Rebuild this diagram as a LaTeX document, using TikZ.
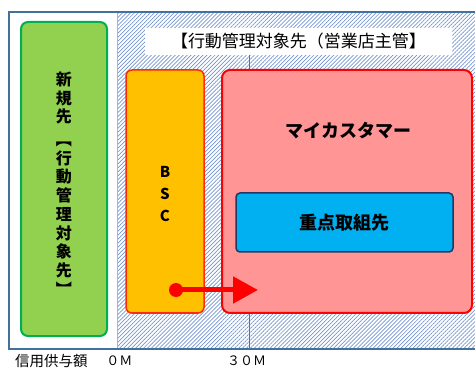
\documentclass[tikz,border=0pt]{standalone}
\usepackage{fontspec}
\setmainfont{Noto Sans CJK JP}
\usetikzlibrary{patterns.meta,arrows.meta}
\definecolor{frameblue}{HTML}{41719C}
\definecolor{hatchblue}{HTML}{7595CE}
\definecolor{greenfill}{HTML}{92D050}
\definecolor{greenline}{HTML}{00B050}
\definecolor{orangefill}{HTML}{FFC000}
\definecolor{orangeline}{HTML}{FF2A00}
\definecolor{pinkfill}{HTML}{FF9595}
\definecolor{bluefill}{HTML}{00B0F0}
\definecolor{navyline}{HTML}{1F3864}
\definecolor{axisblue}{HTML}{4472C4}
\begin{document}
\begin{tikzpicture}[x=1pt,y=-1pt,
  greenbox/.style={draw=greenline, fill=greenfill, line width=2pt, rounded corners=7pt, inner sep=0pt},
  orangebox/.style={draw=orangeline, fill=orangefill, line width=1.5pt, rounded corners=6pt, inner sep=0pt},
  pinkbox/.style={draw=red, fill=pinkfill, line width=2pt, rounded corners=8pt, inner sep=0pt},
  bluebox/.style={draw=navyline, fill=bluefill, line width=1.5pt, rounded corners=4pt, inner sep=0pt,
    font=\fontsize{18pt}{20pt}\selectfont\bfseries},
  titlebox/.style={fill=white, inner sep=0pt, font=\fontsize{17pt}{20pt}\selectfont},
  vtext/.style={align=center, inner sep=0pt, font=\fontsize{16pt}{18.7pt}\selectfont\bfseries},
  bsctext/.style={align=center, inner sep=0pt, font=\fontsize{15pt}{22pt}\selectfont\bfseries},
  bigtext/.style={inner sep=0pt, font=\fontsize{18pt}{20pt}\selectfont\bfseries},
  axistext/.style={inner sep=0pt, font=\fontsize{14.5pt}{16pt}\selectfont},
  digittext/.style={inner sep=0pt, font=\fontsize{13pt}{15pt}\selectfont},
  dot/.style={circle, fill=red, minimum size=14pt, inner sep=0pt},
  arrowline/.style={red, line width=5pt, -{Triangle[length=25pt,width=26pt]}}
]
\useasboundingbox (0,0) rectangle (475,369);
\clip (0,0) rectangle (475,369);
\fill[white] (0,0) rectangle (475,369);
% hatched area
\fill[pattern={Lines[angle=45,distance=2.8pt,line width=0.7pt]}, pattern color=hatchblue] (117,12) rectangle (478,349);
\draw[hatchblue!70, line width=0.5pt] (117,12) -- (117,349);
\draw[frameblue, line width=1.5pt] (9,12) rectangle (478,349);
% title
\node[titlebox, minimum width=307pt, minimum height=27pt] (title) at (298.5,41.5) {【行動管理対象先（営業店主管】};
% 30M tick line
\coordinate (ticktop) at (249,55);
\coordinate (tickbot) at (249,349);
\draw[axisblue, line width=0.8pt] (ticktop) -- (tickbot);
% new customers
\node[greenbox, minimum width=86pt, minimum height=314pt] (new) at (64,179) {};
\node[vtext] (newtext) at (64,183.5) {新\\規\\先\\[4pt]︻\\行\\動\\管\\理\\対\\象\\先\\︼};
% BSC
\node[orangebox, minimum width=78pt, minimum height=243pt] (bsc) at (165,191.5) {};
\node[bsctext] (bsctxt) at (165,194) {B\\S\\C};
% my customer
\node[pinkbox, minimum width=250pt, minimum height=243pt] (mycust) at (347,191.5) {};
\node[bigtext] (mycusttext) at (348,131) {マイカスタマー};
\node[bluebox, minimum width=217pt, minimum height=59pt] (focus) at (344.5,222.5) {重点取組先};
% arrow
\node[dot] (start) at (176,290) {};
\coordinate (end) at (258,290);
\draw[arrowline] (start.center) -- (end);
% axis labels
\node[axistext] (credit) at (51.5,361) {信用供与額};
\node[digittext] (zero) at (119.5,361) {０Ｍ};
\node[digittext] (thirty) at (246.5,361) {３０Ｍ};
\end{tikzpicture}
\end{document}
